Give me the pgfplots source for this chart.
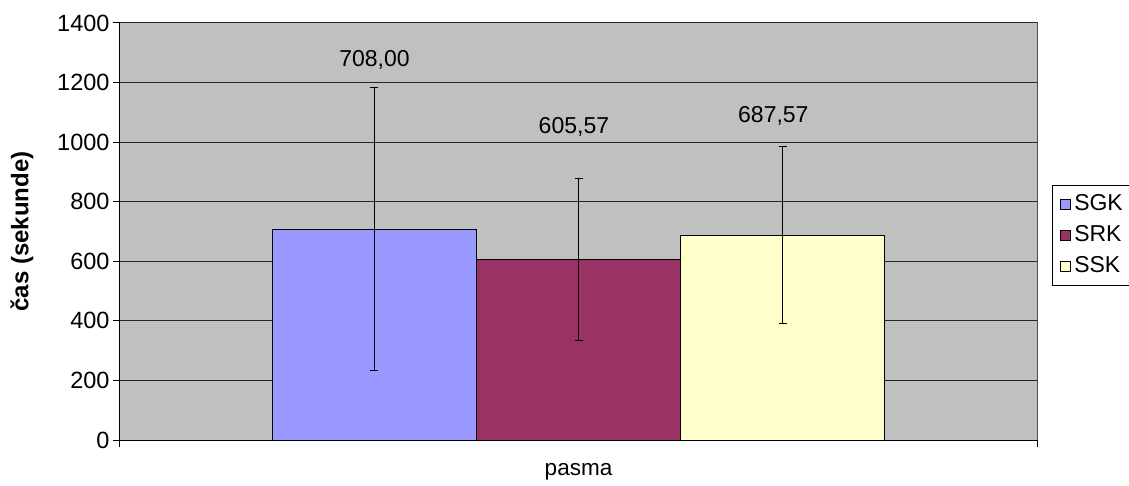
\documentclass[border=0pt]{standalone}
\usepackage{fontspec}
\setmainfont{Liberation Sans}
\usepackage{pgfplots}
\pgfplotsset{compat=1.18}
\definecolor{bgray}{HTML}{C0C0C0}
\definecolor{sgk}{HTML}{9999FF}
\definecolor{srk}{HTML}{993366}
\definecolor{ssk}{HTML}{FFFFCC}
\pgfplotsset{sqlegend/.style={legend image code/.code={\draw[##1, line width=0.8pt] (0pt,-5pt) rectangle (10pt,5pt); \path (13pt,0pt);}}}
\begin{document}
\begin{tikzpicture}
\useasboundingbox (-120pt,-45pt) rectangle (1009pt,440pt);
\begin{axis}[
  at={(0pt,0pt)}, anchor=south west,
  scale only axis, width=917pt, height=417pt,
  xmin=-0.5, xmax=0.5, ymin=0, ymax=1400,
  ytick={0,200,...,1400},
  xtick={-0.5,0.5}, xticklabels={},
  tick align=outside, major tick length=7pt,
  tick style={black, line width=1pt},
  axis x line*=bottom, axis y line*=left,
  axis line style={black, line width=1pt, -},
  ymajorgrids, grid style={black!85, line width=1pt},
  axis background/.style={fill=bgray, draw=gray!60!black, line width=1pt},
  /pgf/number format/assume math mode=true,
  /pgf/number format/1000 sep={},
  ticklabel style={font=\fontsize{23.5}{28}\selectfont},
  ylabel={\textbf{čas (sekunde)}},
  ylabel style={at={(axis description cs:-0.1069,0.5)}, anchor=center, font=\fontsize{24}{28}\selectfont},
  xlabel={pasma},
  xlabel style={at={(axis description cs:0.5,-0.0767)}, anchor=center, font=\fontsize{22.5}{27}\selectfont},
  legend style={at={(axis description cs:1.0164,0.6115)}, anchor=north west, draw=black, line width=0.8pt, fill=white,
    font=\fontsize{23}{27}\selectfont, row sep=5pt, inner xsep=8pt, inner ysep=6pt,
    nodes={inner xsep=0pt, inner ysep=3pt, text height=16pt, text depth=4pt}, cells={anchor=west}},
  error bars/error bar style={black, line width=1pt},
  error bars/error mark options={black, line width=1pt, mark size=4pt, rotate=90},
]
\addplot[ybar, bar width=204pt, bar shift=0pt, fill=sgk, draw=black, line width=0.8pt, sqlegend,
  error bars/.cd, y dir=both, y explicit]
  coordinates {(-0.2225,708) +- (0,474)};
\addlegendentry{SGK}
\addplot[ybar, bar width=204pt, bar shift=0pt, fill=srk, draw=black, line width=0.8pt, sqlegend,
  error bars/.cd, y dir=both, y explicit]
  coordinates {(0,605.57) +- (0,272)};
\addlegendentry{SRK}
\addplot[ybar, bar width=204pt, bar shift=0pt, fill=ssk, draw=black, line width=0.8pt, sqlegend,
  error bars/.cd, y dir=both, y explicit]
  coordinates {(0.2225,687.57) +- (0,297)};
\addlegendentry{SSK}
\node[font=\fontsize{23}{27}\selectfont] at (axis cs:-0.2225,1277) {708,00};
\node[font=\fontsize{23}{27}\selectfont] at (axis cs:-0.005,1052) {605,57};
\node[font=\fontsize{23}{27}\selectfont] at (axis cs:0.2125,1088) {687,57};
\end{axis}
\end{tikzpicture}
\end{document}
